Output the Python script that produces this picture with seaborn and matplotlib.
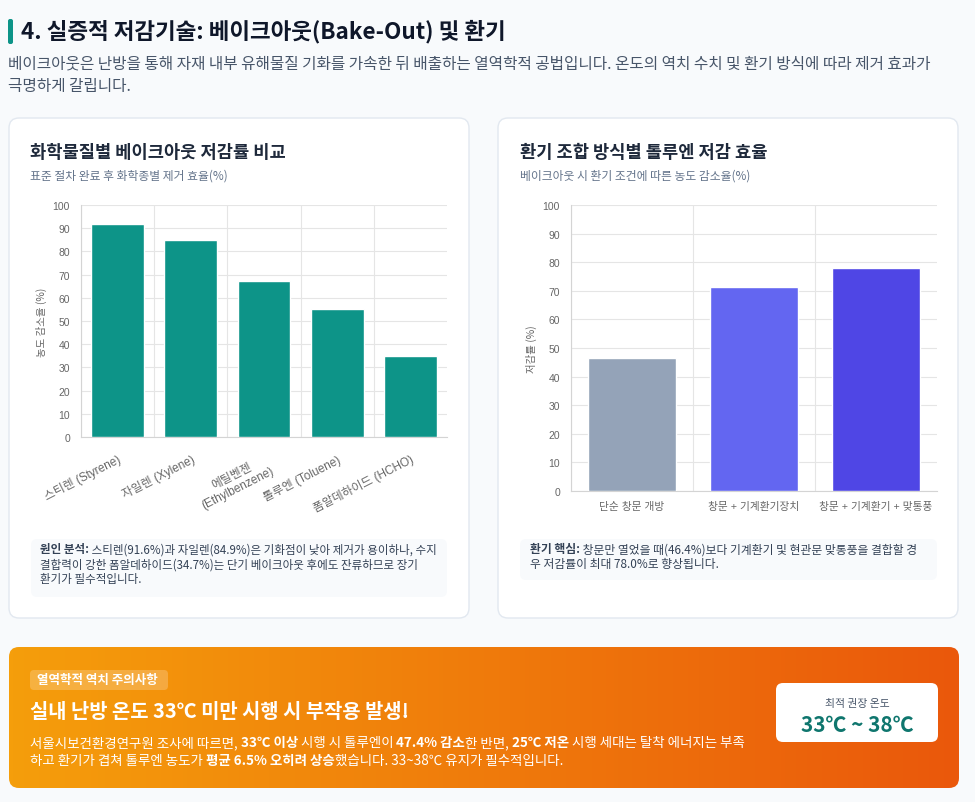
import numpy as np
import matplotlib
matplotlib.use('Agg')
import matplotlib.pyplot as plt
from matplotlib.patches import FancyBboxPatch
import seaborn as sns

# data
chem_labels = ['스티렌 (Styrene)', '자일렌 (Xylene)', '에틸벤젠\n(Ethylbenzene)', '톨루엔 (Toluene)', '폼알데하이드 (HCHO)']
chem_values = [91.6, 84.9, 67.3, 55.1, 34.7]
vent_labels = ['단순 창문 개방', '창문 + 기계환기장치', '창문 + 기계환기 + 맞통풍']
vent_values = [46.4, 71.2, 78.0]
vent_colors = ['#94a3b8', '#6366f1', '#4f46e5']
y_ticks = list(range(0, 101, 10))

sns.set_theme(style='white')
plt.rcParams['font.family'] = ['Noto Sans CJK KR', 'DejaVu Sans']
TICKFONT = ['Liberation Sans', 'Noto Sans CJK KR']

W, H = 975, 803
fig = plt.figure(figsize=(W / 100, H / 100), dpi=100)
fig.patch.set_facecolor('#f8fafc')

# background axes in pixel coordinates (origin top-left)
bg = fig.add_axes([0, 0, 1, 1])
bg.set_xlim(0, W)
bg.set_ylim(H, 0)
bg.axis('off')


def rbox(x0, y0, x1, y1, r, fc, ec='none', lw=0, alpha=1, z=1):
    p = FancyBboxPatch((x0, y0), x1 - x0, y1 - y0,
                       boxstyle=f'round,pad=0,rounding_size={r}',
                       fc=fc, ec=ec, lw=lw, alpha=alpha, zorder=z)
    bg.add_patch(p)
    return p


def runs(x, y, parts, size, color, z=5):
    # draws pieces of one line one after another, some bold
    r = fig.canvas.get_renderer()
    for s, b in parts:
        t = bg.text(x, y, s, fontsize=size, color=color, fontweight='bold' if b else 'normal',
                    va='center', ha='left', zorder=z)
        bb = t.get_window_extent(renderer=r)
        x += bb.width


# header
rbox(8, 20, 13, 45, 2, '#0d9488')
bg.text(21, 32, '4. 실증적 저감기술: 베이크아웃(Bake-Out) 및 환기', fontsize=16.2,
        fontweight='bold', color='#0f172a', va='center')
bg.text(8, 64, '베이크아웃은 난방을 통해 자재 내부 유해물질 기화를 가속한 뒤 배출하는 열역학적 공법입니다. 온도의 역치 수치 및 환기 방식에 따라 제거 효과가',
        fontsize=11.3, color='#475569', va='center')
bg.text(8, 86, '극명하게 갈립니다.', fontsize=11.3, color='#475569', va='center')

# cards
rbox(9, 119, 469, 619, 10, 'white', ec='#e2e8f0', lw=1)
rbox(498, 119, 958, 619, 10, 'white', ec='#e2e8f0', lw=1)

bg.text(30, 153, '화학물질별 베이크아웃 저감률 비교', fontsize=12.7, fontweight='bold', color='#1e293b', va='center')
bg.text(30, 176, '표준 절차 완료 후 화학종별 제거 효율(%)', fontsize=8.5, color='#64748b', va='center')
bg.text(520, 153, '환기 조합 방식별 톨루엔 저감 효율', fontsize=12.7, fontweight='bold', color='#1e293b', va='center')
bg.text(520, 176, '베이크아웃 시 환기 조건에 따른 농도 감소율(%)', fontsize=8.5, color='#64748b', va='center')

# note boxes
rbox(31, 540, 447, 598, 6, '#f8fafc')
runs(40, 550, [('원인 분석:', True), (' 스티렌(91.6%)과 자일렌(84.9%)은 기화점이 낮아 제거가 용이하나, 수지', False)], 8.3, '#334155')
runs(40, 565, [('결합력이 강한 폼알데하이드(34.7%)는 단기 베이크아웃 후에도 잔류하므로 장기', False)], 8.3, '#334155')
runs(40, 580, [('환기가 필수적입니다.', False)], 8.3, '#334155')

rbox(520, 540, 937, 581, 6, '#f8fafc')
runs(530, 550, [('환기 핵심:', True), (' 창문만 열었을 때(46.4%)보다 기계환기 및 현관문 맞통풍을 결합할 경', False)], 8.5, '#334155')
runs(530, 565, [('우 저감률이 최대 78.0%로 향상됩니다.', False)], 8.5, '#334155')


def fpos(x0, y0, x1, y1):
    return [x0 / W, 1 - y1 / H, (x1 - x0) / W, (y1 - y0) / H]


def style_axis(ax, n):
    ax.set_xlim(-0.5, n - 0.5)
    ax.set_ylim(0, 100)
    ax.set_yticks(y_ticks)
    ax.set_xticks(np.arange(n) - 0.5, minor=True)
    ax.set_xticks(np.arange(n))
    ax.grid(True, axis='y', color='#e5e5e5', lw=0.8, zorder=0)
    ax.grid(True, axis='x', which='minor', color='#e5e5e5', lw=0.8, zorder=0)
    ax.grid(False, axis='x', which='major')
    ax.set_axisbelow(True)
    for s in ['top', 'right']:
        ax.spines[s].set_visible(False)
    for s in ['left', 'bottom']:
        ax.spines[s].set_color('#d4d4d4')
        ax.spines[s].set_linewidth(0.8)
    ax.tick_params(axis='y', length=5, color='#e5e5e5', labelsize=7.5, labelcolor='#666666', pad=3)
    ax.tick_params(axis='x', which='major', length=0, labelsize=7.7, labelcolor='#666666')
    ax.tick_params(axis='x', which='minor', length=6, color='#e5e5e5')
    ax.set_xlabel('')
    for t in ax.get_yticklabels():
        t.set_family(TICKFONT)
    ax.set_facecolor('none')


# left chart
ax1 = fig.add_axes(fpos(81, 206, 447, 438))
sns.barplot(x=chem_labels, y=chem_values, color='#0d9488', width=0.72, saturation=1, ax=ax1, zorder=3)
style_axis(ax1, len(chem_labels))
ax1.set_xticks(np.arange(len(chem_labels)))
ax1.set_xticklabels(chem_labels, rotation=27, ha='right', va='top', rotation_mode='anchor',
                    multialignment='center', family=TICKFONT, fontsize=8.5)
ax1.tick_params(axis='x', which='major', pad=11)
ax1.set_ylabel('농도 감소율 (%)', fontsize=7.5, color='#666666', labelpad=4)

# right chart
ax2 = fig.add_axes(fpos(571, 206, 937, 492))
sns.barplot(x=vent_labels, y=vent_values, hue=vent_labels, palette=vent_colors, legend=False,
            width=0.72, saturation=1, ax=ax2, zorder=3)
style_axis(ax2, len(vent_labels))
ax2.set_xticks(np.arange(len(vent_labels)))
ax2.set_xticklabels(vent_labels, family=TICKFONT)
ax2.tick_params(axis='x', which='major', pad=7)
ax2.set_ylabel('저감률 (%)', fontsize=7.5, color='#666666', labelpad=4)

# banner with gradient
bx0, by0, bx1, by1 = 9, 648, 959, 789
clip = rbox(bx0, by0, bx1, by1, 10, 'none')
grad = np.linspace(0, 1, 256).reshape(1, -1)
cmap = matplotlib.colors.LinearSegmentedColormap.from_list('og', ['#f59e0b', '#ea580c'])
im = bg.imshow(grad, extent=[bx0, bx1, by1, by0], cmap=cmap, aspect='auto', zorder=1)
im.set_clip_path(clip)
bg.set_xlim(0, W)
bg.set_ylim(H, 0)

rbox(30, 671, 168, 691, 4, 'white', alpha=0.22, z=2)
bg.text(37, 681, '열역학적 역치 주의사항', fontsize=9.0, fontweight='bold', color='white', va='center', zorder=5)
bg.text(30, 712, '실내 난방 온도 33℃ 미만 시행 시 부작용 발생!', fontsize=14.3, fontweight='bold',
        color='white', va='center', zorder=5)
runs(30, 743, [('서울시보건환경연구원 조사에 따르면, ', False), ('33℃ 이상', True), (' 시행 시 톨루엔이 ', False),
               ('47.4% 감소', True), ('한 반면, ', False), ('25℃ 저온', True), (' 시행 세대는 탈착 에너지는 부족', False)],
     9.7, 'white')
runs(30, 761, [('하고 환기가 겹쳐 톨루엔 농도가 ', False), ('평균 6.5% 오히려 상승', True),
               ('했습니다. 33~38℃ 유지가 필수적입니다.', False)], 9.7, 'white')

rbox(776, 684, 938, 743, 7, 'white', z=2)
bg.text(857, 704, '최적 권장 온도', fontsize=7.8, color='#475569', ha='center', va='center', zorder=5)
bg.text(857, 726, '33℃ ~ 38℃', fontsize=15, fontweight='bold', color='#0f766e', ha='center', va='center', zorder=5)

fig.savefig('out.png', dpi=100, facecolor=fig.get_facecolor())
